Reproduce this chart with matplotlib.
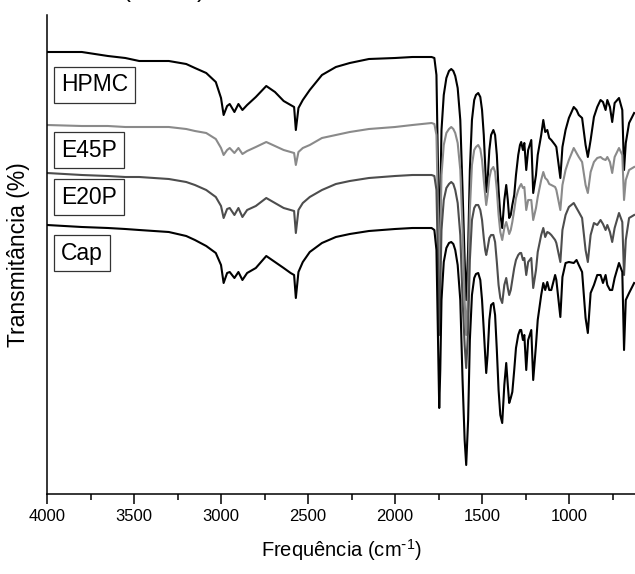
import matplotlib
matplotlib.use('Agg')
import matplotlib.pyplot as plt
from matplotlib.ticker import MultipleLocator

plt.rcParams['font.family'] = ['Liberation Sans', 'DejaVu Sans']
plt.rcParams['mathtext.default'] = 'regular'

# FTIR spectra, wavenumber (cm-1) and transmittance (arbitrary, stacked)
wavenumber = [
    4000, 3800, 3650, 3550, 3470, 3300, 3200, 3150, 3085, 3030,
    3000, 2985, 2965, 2950, 2923, 2900, 2877, 2850, 2800, 2740,
    2690, 2640, 2600, 2580, 2570, 2555, 2530, 2490, 2420, 2340,
    2260, 2150, 2000, 1900, 1790, 1774, 1762, 1750, 1746, 1740,
    1733, 1720, 1705, 1690, 1677, 1665, 1654, 1640, 1625, 1612,
    1600, 1591, 1580, 1570, 1558, 1545, 1535, 1522, 1510, 1500,
    1490, 1482, 1476, 1468, 1458, 1448, 1435, 1425, 1415, 1405,
    1395, 1384, 1372, 1361, 1352, 1344, 1335, 1326, 1315, 1305,
    1292, 1282, 1275, 1265, 1257, 1246, 1235, 1217, 1206, 1190,
    1180, 1160, 1148, 1137, 1125, 1114, 1102, 1080, 1073, 1050,
    1038, 1020, 1001, 973, 957, 944, 925, 905, 892, 876,
    857, 838, 819, 805, 790, 780, 765, 752, 738, 713,
    694, 684, 674, 655, 626,
]

hpmc = [
    448, 448, 444, 442, 439, 439, 436, 432, 427, 418,
    402, 385, 394, 396, 388, 396, 390, 395, 403, 414,
    408, 399, 395, 393, 370, 392, 400, 410, 425, 433,
    437, 441, 442, 443, 443, 442, 425, 300, 250, 300,
    370, 405, 422, 429, 431, 429, 424, 412, 380, 310,
    240, 200, 250, 330, 380, 400, 405, 407, 403, 390,
    365, 335, 308, 320, 350, 365, 370, 365, 345, 310,
    285, 272, 300, 315, 300, 282, 285, 295, 305, 325,
    345, 355, 358, 350, 357, 330, 350, 360, 307, 325,
    345, 365, 380, 368, 370, 362, 360, 355, 353, 322,
    353, 370, 382, 393, 390, 385, 382, 355, 343, 360,
    383, 393, 400, 398, 390, 400, 393, 378, 397, 402,
    390, 330, 357, 377, 387,
]

e45p = [
    375, 374, 374, 373, 373, 373, 371, 369, 367, 361,
    352, 345, 350, 352, 347, 352, 346, 349, 353, 358,
    354, 350, 348, 347, 335, 348, 352, 355, 362, 365,
    368, 371, 373, 375, 377, 376, 365, 260, 210, 260,
    325, 355, 367, 371, 373, 371, 367, 357, 330, 270,
    200, 165, 210, 290, 335, 350, 353, 355, 351, 340,
    320, 305, 295, 305, 322, 330, 333, 328, 310, 285,
    268, 260, 272, 278, 272, 266, 270, 278, 290, 302,
    310, 314, 316, 312, 313, 290, 300, 300, 280, 292,
    303, 320, 328, 322, 320, 316, 315, 313, 310, 290,
    315, 330, 340, 352, 347, 343, 338, 315, 307, 328,
    338, 342, 343, 341, 340, 343, 338, 327, 343, 352,
    345, 300, 320, 330, 333,
]

e20p = [
    327, 325, 324, 323, 323, 321, 318, 315, 310, 303,
    294, 282, 291, 292, 285, 292, 283, 290, 294, 302,
    297, 292, 290, 289, 267, 290, 297, 303, 310, 316,
    319, 322, 324, 325, 325, 324, 310, 210, 165, 210,
    270, 300, 312, 316, 318, 316, 310, 297, 265, 200,
    155, 132, 170, 240, 280, 292, 295, 295, 290, 280,
    262, 250, 245, 252, 262, 265, 265, 258, 238, 215,
    202, 197, 215, 222, 212, 205, 210, 220, 232, 240,
    245, 247, 247, 240, 242, 225, 238, 242, 212, 230,
    248, 265, 272, 263, 268, 267, 265, 260, 257, 238,
    270, 285, 293, 297, 292, 288, 282, 250, 238, 265,
    277, 275, 280, 276, 270, 275, 268, 258, 272, 287,
    278, 225, 260, 282, 285,
]

cap = [
    275, 273, 272, 271, 270, 268, 264, 260, 254, 247,
    235, 217, 227, 228, 222, 228, 220, 227, 232, 244,
    238, 232, 227, 225, 202, 228, 238, 248, 257, 263,
    266, 269, 271, 272, 272, 270, 250, 130, 92, 130,
    200, 238, 252, 257, 258, 256, 250, 235, 200, 120,
    60, 35, 80, 160, 205, 222, 226, 227, 220, 200,
    170, 145, 127, 145, 180, 195, 197, 185, 150, 110,
    85, 77, 115, 137, 115, 97, 102, 108, 130, 152,
    165, 170, 170, 160, 165, 130, 160, 170, 120, 155,
    180, 205, 217, 210, 218, 210, 210, 225, 220, 183,
    223, 237, 238, 237, 240, 235, 228, 182, 167, 207,
    215, 225, 225, 217, 225, 215, 210, 210, 222, 237,
    228, 150, 200, 207, 217,
]

labels = ['HPMC', 'E45P', 'E20P', 'Cap']
colors = ['black', '#8a8a8a', '#4d4d4d', 'black']
spectra = [hpmc, e45p, e20p, cap]

fig = plt.figure(figsize=(6.35, 5.74), dpi=100)
ax = fig.add_axes([47 / 635, 80 / 574, 588 / 635, 479 / 574])

for y, c in zip(spectra, colors):
    ax.plot(wavenumber, y, color=c, lw=1.5)

ax.set_xlim(4000, 621)
ax.set_ylim(6, 485)

ax.spines['top'].set_visible(False)
ax.spines['right'].set_visible(False)
ax.spines['left'].set_linewidth(1.1)
ax.spines['bottom'].set_linewidth(1.1)

ax.set_yticks([])
ax.xaxis.set_major_locator(MultipleLocator(500))
ax.xaxis.set_minor_locator(MultipleLocator(250))
ax.tick_params(axis='x', which='major', direction='out', length=7, width=1.1,
               labelsize=12, pad=4)
ax.tick_params(axis='x', which='minor', direction='out', length=4, width=1.1)

ax.set_xlabel(r'Frequência (cm$^{\text{-}1}$)', fontsize=14.5, labelpad=9)
ax.set_ylabel('Transmitância (%)', fontsize=16.5, labelpad=12)

# boxed sample names
label_y = [0.854, 0.718, 0.620, 0.503]
for name, ly in zip(labels, label_y):
    ax.text(0.024, ly, name, transform=ax.transAxes, fontsize=16.5,
            ha='left', va='center',
            bbox=dict(boxstyle='square,pad=0.3', fc='white', ec='#333333', lw=0.9))

# caption parentheses clipped at the top edge
fig.text(123 / 635, 1 + 3 / 574, '(', fontsize=17, va='baseline', ha='left')
fig.text(197 / 635, 1 + 3 / 574, ')', fontsize=17, va='baseline', ha='left')

fig.savefig('out.png', dpi=100)
